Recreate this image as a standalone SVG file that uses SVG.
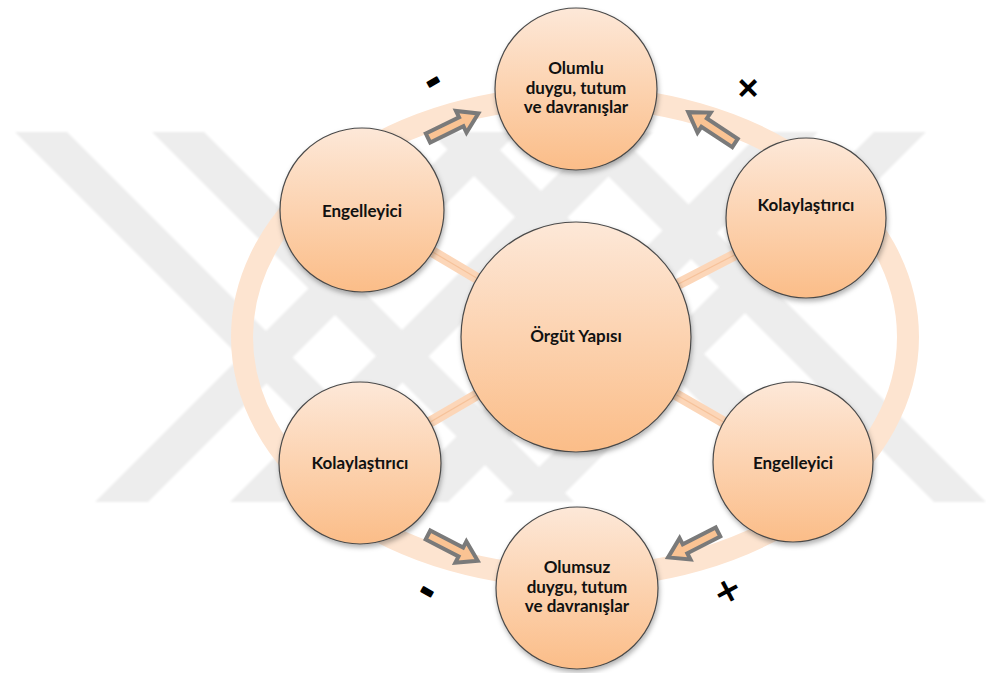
<svg xmlns="http://www.w3.org/2000/svg" width="986" height="673" viewBox="0 0 986 673">
  <defs>
    <linearGradient id="nodeFill" x1="0" y1="0" x2="0" y2="1">
      <stop offset="0" stop-color="#fde8d8"/>
      <stop offset="1" stop-color="#fbbd88"/>
    </linearGradient>
    <filter id="shadow" x="-20%" y="-20%" width="140%" height="140%">
      <feDropShadow dx="1" dy="3" stdDeviation="2.5" flood-color="#000" flood-opacity="0.3"/>
    </filter>
    <filter id="soft" x="-5%" y="-5%" width="110%" height="110%">
      <feGaussianBlur stdDeviation="1.2"/>
    </filter>
    <path id="arrow" d="M0,-5 L37,-5 L37,-12 L56,0 L37,12 L37,5 L0,5 Z"/>
    <style>
      .node { fill: url(#nodeFill); stroke: #4a4a4a; stroke-width: 1.2; filter: url(#shadow); }
      .label { font-family: Lato, "Liberation Sans", sans-serif; font-weight: bold; font-size: 17px; fill: #111; text-anchor: middle; dominant-baseline: central; }
      .band { fill: #ededed; }
      .spoke { stroke: #fcd6b8; stroke-width: 11; fill: none; }
      .spoke-core { stroke: #f6c29a; stroke-width: 1.2; fill: none; }
      .ring { fill: none; stroke: #fde4d0; stroke-width: 22; }
      .flow { fill: #fac393; stroke: #7a7a7a; stroke-width: 4; stroke-linejoin: miter; }
      .sign { font-family: "DejaVu Sans", sans-serif; font-weight: bold; font-size: 34px; fill: #000; text-anchor: middle; dominant-baseline: central; }
      .minus { font-size: 34px; stroke: #000; stroke-width: 2; stroke-linejoin: round; }
    </style>
  </defs>

  <rect width="986" height="673" fill="#fff"/>

  <!-- background emblem -->
  <g id="emblem" filter="url(#soft)">
    <polygon class="band" points="15,132 67,132 437,502 385,502"/>
    <polygon class="band" points="152,132 204,132 574,502 522,502"/>
    <polygon class="band" points="95,502 148,502 518,132 465,132"/>
    <polygon class="band" points="230,502 283,502 653,132 600,132"/>
    <polygon class="band" points="874,132 926,132 556,502 504,502"/>
    <polygon class="band" points="761,132 818,132 448,502 391,502"/>
    <polygon class="band" points="934,502 986,502 616,132 564,132"/>
    <polygon class="band" points="800,502 852,502 482,132 430,132"/>
  </g>

  <!-- outer cycle ring -->
  <ellipse class="ring" cx="575" cy="337" rx="333" ry="240"/>

  <!-- connectors -->
  <g id="connectors">
    <line class="spoke" x1="576" y1="337" x2="362" y2="210"/>
    <line class="spoke" x1="576" y1="337" x2="806" y2="218"/>
    <line class="spoke" x1="576" y1="337" x2="360" y2="463"/>
    <line class="spoke" x1="576" y1="337" x2="793" y2="462"/>
    <line class="spoke-core" x1="576" y1="337" x2="362" y2="210"/>
    <line class="spoke-core" x1="576" y1="337" x2="806" y2="218"/>
    <line class="spoke-core" x1="576" y1="337" x2="360" y2="463"/>
    <line class="spoke-core" x1="576" y1="337" x2="793" y2="462"/>
  </g>

  <!-- flow arrows on the ring -->
  <g id="flow-arrows">
    <use href="#arrow" class="flow" transform="translate(428,138) rotate(-26)"/>
    <use href="#arrow" class="flow" transform="translate(735,143) rotate(-146.6)"/>
    <use href="#arrow" class="flow" transform="translate(428,535) rotate(27.4)"/>
    <use href="#arrow" class="flow" transform="translate(718,532) rotate(153)"/>
  </g>

  <!-- nodes -->
  <g id="node-center">
    <circle class="node" cx="576" cy="337" r="115"/>
    <text class="label" x="576" y="335">Örgüt Yapısı</text>
  </g>
  <g id="node-positive">
    <circle class="node" cx="576" cy="89" r="81"/>
    <text class="label" x="576" y="67">Olumlu</text>
    <text class="label" x="576" y="87">duygu, tutum</text>
    <text class="label" x="576" y="106">ve davranışlar</text>
  </g>
  <g id="node-negative">
    <circle class="node" cx="577" cy="588" r="81"/>
    <text class="label" x="577" y="566">Olumsuz</text>
    <text class="label" x="577" y="586">duygu, tutum</text>
    <text class="label" x="577" y="605">ve davranışlar</text>
  </g>
  <g id="node-top-left">
    <circle class="node" cx="362" cy="210" r="82"/>
    <text class="label" x="362" y="210">Engelleyici</text>
  </g>
  <g id="node-top-right">
    <circle class="node" cx="806" cy="218" r="80"/>
    <text class="label" x="806" y="204">Kolaylaştırıcı</text>
  </g>
  <g id="node-bottom-left">
    <circle class="node" cx="360" cy="463" r="81"/>
    <text class="label" x="360" y="462">Kolaylaştırıcı</text>
  </g>
  <g id="node-bottom-right">
    <circle class="node" cx="793" cy="462" r="80"/>
    <text class="label" x="793" y="462">Engelleyici</text>
  </g>

  <!-- sign marks -->
  <g id="signs">
    <text class="sign minus" transform="translate(432,80) rotate(-30)">-</text>
    <text class="sign" transform="translate(749,87) rotate(45)">+</text>
    <text class="sign minus" transform="translate(428,590) rotate(30)">-</text>
    <text class="sign" transform="translate(727,590) rotate(-28)">+</text>
  </g>
</svg>
